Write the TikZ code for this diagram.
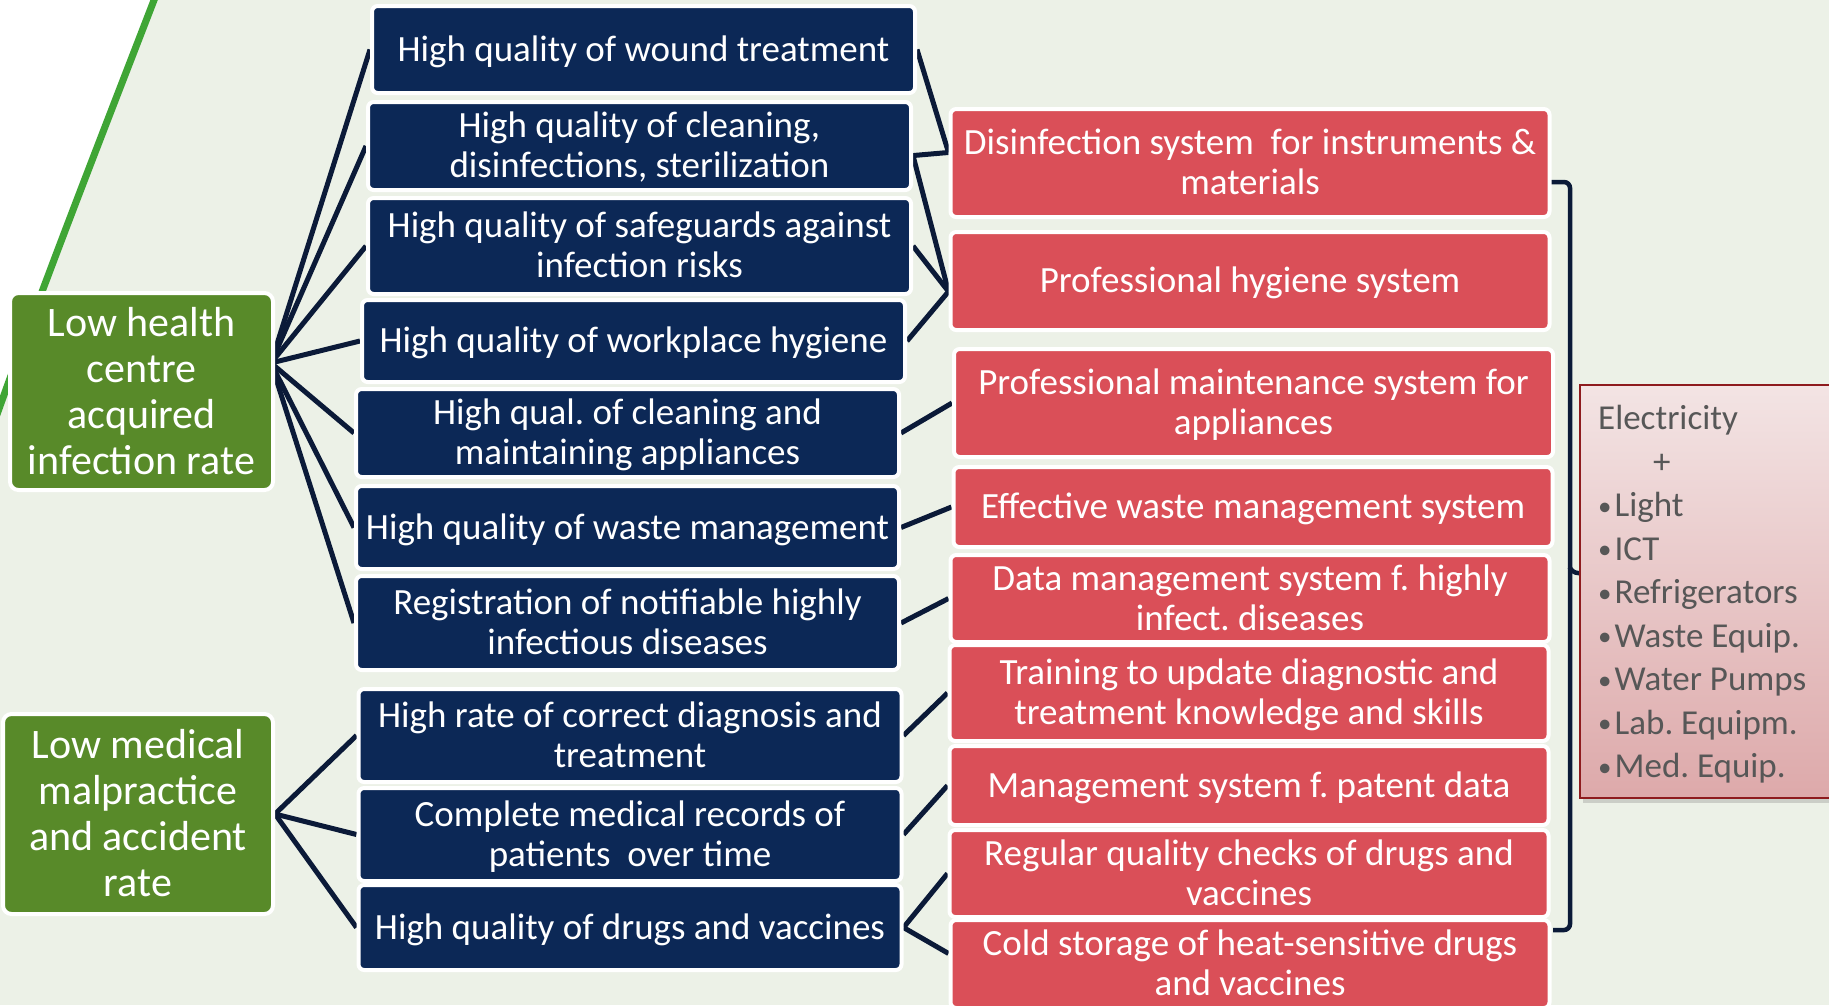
\documentclass[tikz,border=0pt]{standalone}
\usepackage{fontspec}
\setmainfont{Carlito}
\frenchspacing
\usetikzlibrary{positioning,backgrounds,shadows}
\definecolor{bgColor}{HTML}{ECF1E7}
\definecolor{arcColor}{HTML}{3FA535}
\definecolor{goalColor}{HTML}{588A29}
\definecolor{aimColor}{HTML}{0C2856}
\definecolor{sysColor}{HTML}{DA4F58}
\definecolor{linkColor}{HTML}{0B1A38}
\definecolor{supTop}{HTML}{F3E4E4}
\definecolor{supBot}{HTML}{DDA9AA}
\definecolor{supEdge}{HTML}{8E1B1E}
\definecolor{supText}{HTML}{575757}
\newcommand{\itm}[1]{\raisebox{1.5pt}{\fontsize{27}{27}\selectfont\textbullet}\hspace{3pt}#1}
\newcommand{\boxlines}[2][3.5pt]{\raisebox{-#1}[\height][\depth]{\begin{tabular}{c}#2\end{tabular}}}
\tikzset{
	goal/.style={draw=white, line width=4pt, fill=goalColor, rounded corners=3mm, text=white,
		inner sep=0pt, font=\fontsize{42}{46}\selectfont},
	aim/.style={draw=white, line width=4pt, fill=aimColor, rounded corners=2mm, text=white,
		inner sep=0pt, minimum width=543pt, font=\fontsize{37}{40}\selectfont},
	sys/.style={draw=white, line width=4pt, fill=sysColor, rounded corners=2mm, text=white,
		inner sep=0pt, minimum width=599pt, font=\fontsize{37}{40}\selectfont},
	link/.style={draw=linkColor, line width=5pt},
	collect/.style={draw=linkColor, line width=4.5pt, rounded corners=6pt},
	supply/.style={draw=supEdge, line width=2pt, top color=supTop, bottom color=supBot,
		drop shadow={shadow xshift=3pt, shadow yshift=-5pt, opacity=0.3}}
}

\begin{document}
\begin{tikzpicture}[x=1pt, y=-1pt, every edge/.append style={link}]
	\useasboundingbox (0,0) rectangle (1829,1005);
	\node[goal, minimum width=263pt, minimum height=197pt] (g1) at (141.5,391.5) {\boxlines[4.5pt]{Low health\\ centre\\ acquired\\ infection rate}};
	\node[goal, minimum width=270pt, minimum height=200pt] (g2) at (138,814) {\boxlines[4.5pt]{Low medical\\ malpractice\\ and accident\\ rate}};
	\node[aim, minimum height=87pt] (n1) at (643.5,49.5) {\boxlines{High quality of wound treatment}};
	\node[aim, minimum height=88pt] (n2) at (639.5,146) {\boxlines{High quality of cleaning,\\ disinfections, sterilization}};
	\node[aim, minimum height=96pt] (n3) at (639.5,246) {\boxlines{High quality of safeguards against\\ infection risks}};
	\node[aim, minimum height=82pt] (n4) at (633.5,341) {\boxlines{High quality of workplace hygiene}};
	\node[aim, minimum height=88pt] (n5) at (627.5,433) {\boxlines{High qual. of cleaning and\\ maintaining appliances}};
	\node[aim, minimum height=83pt] (n6) at (627.5,527.5) {\boxlines{High quality of waste management}};
	\node[aim, minimum height=94pt] (n7) at (627.5,623) {\boxlines{Registration of notifiable highly\\ infectious diseases}};
	\node[aim, minimum height=93pt] (n8) at (630,735.5) {\boxlines{High rate of correct diagnosis and\\ treatment}};
	\node[aim, minimum height=93pt] (n9) at (630,834.5) {\boxlines{Complete medical records of\\ patients\ \ over time}};
	\node[aim, minimum height=85pt] (n10) at (630,927.5) {\boxlines{High quality of drugs and vaccines}};
	\node[sys, minimum height=108pt] (r1) at (1250,163) {\boxlines{Disinfection system\ \ for instruments \&\\ materials}};
	\node[sys, minimum height=98pt] (r2) at (1250,281) {\boxlines{Professional hygiene system}};
	\node[sys, minimum height=108pt] (r3) at (1253.5,403) {\boxlines{Professional maintenance system for\\ appliances}};
	\node[sys, minimum height=80pt] (r4) at (1253,507) {\boxlines{Effective waste management system}};
	\node[sys, minimum height=87pt] (r5) at (1250,598.5) {\boxlines{Data management system f. highly\\ infect. diseases}};
	\node[sys, minimum height=96pt] (r6) at (1249,693) {\boxlines{Training to update diagnostic and\\ treatment knowledge and skills}};
	\node[sys, minimum height=79pt] (r7) at (1249,785.5) {\boxlines{Management system f. patent data}};
	\node[sys, minimum height=87pt] (r8) at (1249,873.5) {\boxlines{Regular quality checks of drugs and\\ vaccines}};
	\node[sys, minimum height=88pt] (r9) at (1250,964) {\boxlines{Cold storage of heat-sensitive drugs\\ and vaccines}};
	\node[supply, minimum width=290pt, minimum height=413pt] (pk) at (1725,591.5) {};
	\node[anchor=north west, inner sep=0pt, text=supText, font=\fontsize{35}{43.5}\selectfont] (pkl) at (1598,399) {\begin{tabular}{@{}l@{}} Electricity\\ \hspace{55pt}+\\ \itm{Light}\\ \itm{ICT}\\ \itm{Refrigerators}\\ \itm{Waste Equip.}\\ \itm{Water Pumps}\\ \itm{Lab. Equipm.}\\ \itm{Med. Equip.} \end{tabular}};
	\coordinate (g1hub) at (271,363);
	\coordinate (bTop) at (1551,182);
	\coordinate (bTip) at (1590,573);
	\coordinate (bBot) at (1553,930);
	\begin{scope}[on background layer]
		\fill[bgColor] (0,0) rectangle (1829,1005);
		\fill[white] (-5,0) -- (156,0) .. controls (100,140) and (45,280) .. (-5,420) -- cycle;
		\draw[arcColor, line width=7pt] (156,-5) .. controls (100,140) and (45,280) .. (-5,420);
		\path (g1hub) edge (n1.west);
		\path (g1hub) edge (n2.west);
		\path (g1hub) edge (n3.west);
		\path (g1hub) edge (n4.west);
		\path (g1hub) edge (n5.west);
		\path (g1hub) edge (n6.west);
		\path (g1hub) edge (n7.west);
		\path (g2.east) edge (n8.west);
		\path (g2.east) edge (n9.west);
		\path (g2.east) edge (n10.west);
		\path (n1.east) edge (r1.178);
		\path (n2.358) edge (r1.178);
		\path (n2.358) edge (r2.182);
		\path (n3.east) edge (r2.182);
		\path (n4.east) edge (r2.182);
		\path (n5.east) edge (r3.west);
		\path (n6.east) edge (r4.west);
		\path (n7.east) edge (r5.west);
		\path (n8.east) edge (r6.west);
		\path (n9.east) edge (r7.west);
		\path (n10.east) edge (r8.west);
		\path (n10.east) edge (r9.178);
		\draw[collect] (bTop) -- (1570,182) -- (1570,930) -- (bBot);
		\draw[collect] (1570,568) -- (1572,573) -- (bTip);
	\end{scope}
\end{tikzpicture}
\end{document}
